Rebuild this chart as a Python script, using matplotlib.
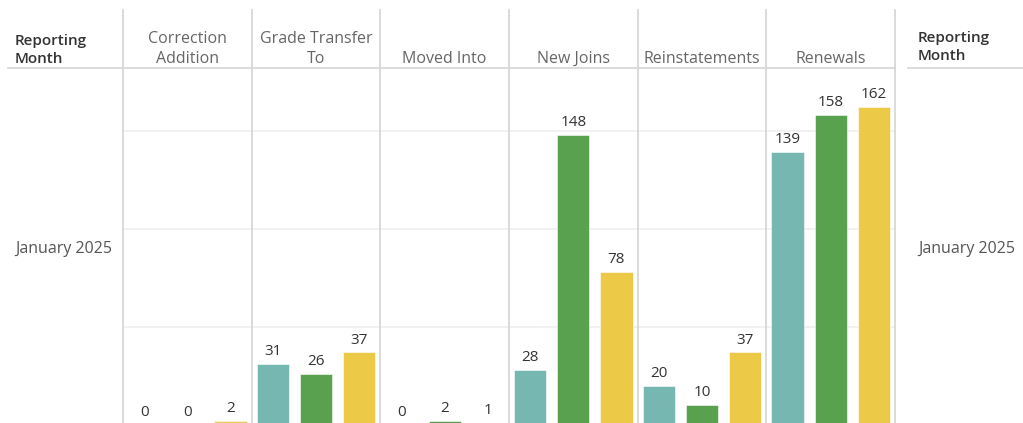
import matplotlib.pyplot as plt
from matplotlib.lines import Line2D
import matplotlib.transforms as mtransforms
import numpy as np

plt.rcParams['font.family'] = ['Open Sans', 'DejaVu Sans']

categories = ["Correction\nAddition", "Grade Transfer\nTo", "Moved Into",
              "New Joins", "Reinstatements", "Renewals"]
series_a = [0, 31, 0, 28, 20, 139]
series_b = [0, 26, 2, 148, 10, 158]
series_c = [2, 37, 1, 78, 37, 162]
row_label = "January 2025"
header_label = "Reporting\nMonth"

colors = ['#76B7B2', '#59A14F', '#EDC948']
W, H = 1023, 423

fig = plt.figure(figsize=(W / 100, H / 100), dpi=100)
fig.patch.set_facecolor('white')

# plot area in pixels: x 123..895, y 68..424 (from top)
left, right, top, bottom = 123, 895, 68, 425
ax = fig.add_axes([left / W, 1 - bottom / H, (right - left) / W, (bottom - top) / H])
ax.set_xlim(0, len(categories))
ax.set_ylim(0, 182)
for s in ax.spines.values():
    s.set_visible(False)
ax.set_xticks([])
ax.set_yticks([50, 100, 150])
ax.tick_params(axis='y', length=0, labelleft=False)
ax.grid(axis='y', color='#efefef', linewidth=1.2)
ax.set_axisbelow(True)

x = np.arange(len(categories)) + 0.5
offsets = [-0.335, 0, 0.335]
bw = 0.25
for vals, off, col in zip([series_a, series_b, series_c], offsets, colors):
    bars = ax.bar(x + off, vals, width=bw, color=col, edgecolor='white',
                  linewidth=0.4, zorder=3)
    for b, v in zip(bars, vals):
        ax.text(b.get_x() + b.get_width() / 2, v + 2.5, str(v),
                ha='center', va='bottom', fontsize=11, color='#333333', zorder=4)

# column separators
for i in range(len(categories) + 1):
    xf = (left + i * (right - left) / len(categories)) / W
    fig.add_artist(Line2D([xf, xf], [0, 1 - 10 / H], color='#d4d4d4', linewidth=1.2))

# header underline
fig.add_artist(Line2D([8 / W, right / W], [1 - top / H] * 2, color='#d4d4d4', linewidth=1.2))
fig.add_artist(Line2D([908 / W, 1], [1 - top / H] * 2, color='#d4d4d4', linewidth=1.2))

# column headers
trans = mtransforms.blended_transform_factory(ax.transData, fig.transFigure)
for xi, cat in zip(x, categories):
    ax.text(xi, 1 - 67 / H, cat, transform=trans, ha='center', va='bottom',
            fontsize=11.5, color='#666666', linespacing=1.35, multialignment='center')

# row headers
fig.text(15 / W, 1 - 66 / H, header_label, ha='left', va='bottom', fontsize=11,
         color='#333333', fontweight='semibold', linespacing=1.4)
fig.text(918 / W, 1 - 63 / H, header_label, ha='left', va='bottom', fontsize=11,
         color='#333333', fontweight='semibold', linespacing=1.4)
fig.text(15 / W, 1 - 249 / H, row_label, ha='left', va='center', fontsize=11.5, color='#555555')
fig.text(918 / W, 1 - 249 / H, row_label, ha='left', va='center', fontsize=11.5, color='#555555')

fig.savefig('out.png', dpi=100, facecolor='white')
